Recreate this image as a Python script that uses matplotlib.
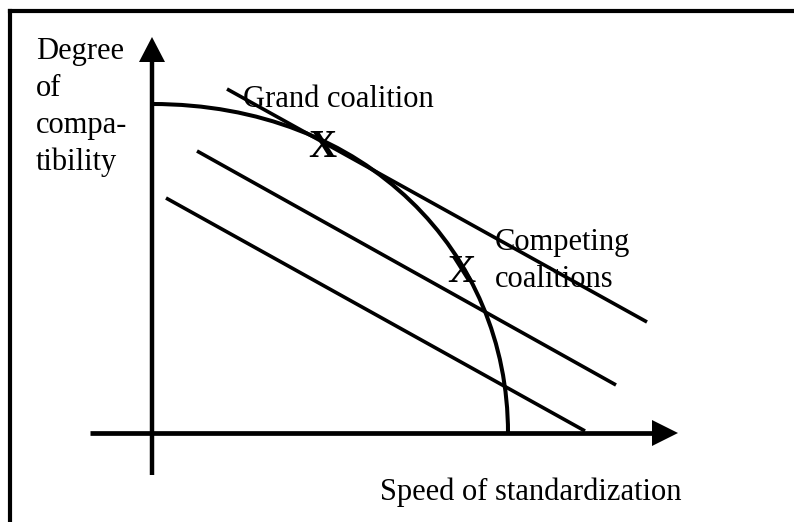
import matplotlib
matplotlib.use("Agg")
import matplotlib.pyplot as plt
from matplotlib.path import Path
from matplotlib.patches import PathPatch, Polygon
from matplotlib.lines import Line2D

# ---- data (diagram units, origin at axes intersection) ----
frontier_ctrl_x = [0, 215, 356, 356]      # Bezier control points of the frontier
frontier_ctrl_y = [329, 329, 180, 0]
line_x0 = [75, 45, 14]                    # iso-lines (start / end)
line_y0 = [344, 282, 235]
line_x1 = [495, 464, 433]
line_y1 = [111, 48, 2]
marker_x = [170.5, 309.5]                 # "X" points
marker_y = [276, 151]
y_label = "Degree\nof\ncompa-\ntibility"
x_label = "Speed of standardization"
grand_label = "Grand coalition"
compete_label = "Competing\ncoalitions"

plt.rcParams['font.family'] = ['Liberation Serif', 'DejaVu Serif']

fig = plt.figure(figsize=(7.94, 5.22), dpi=100)
ax = fig.add_axes([0, 0, 1, 1])
ax.set_xlim(-152, 642)
ax.set_ylim(-89, 433)
ax.axis('off')

# frame (top and left edges)
fig.add_artist(Line2D([10/794, 1.0], [1 - 11/522, 1 - 11/522], color='black', lw=3.0,
                      transform=fig.transFigure, solid_capstyle='projecting'))
fig.add_artist(Line2D([10/794, 10/794], [0, 1 - 11/522], color='black', lw=3.0,
                      transform=fig.transFigure, solid_capstyle='projecting'))

# axes with arrow heads
ax.plot([-62, 505], [0, 0], color='black', lw=3.4, solid_capstyle='butt')
ax.plot([0, 0], [-42, 375], color='black', lw=3.2, solid_capstyle='butt')
ax.add_patch(Polygon([[500, 13], [526, 0], [500, -13]], closed=True, color='black', lw=0))
ax.add_patch(Polygon([[-13, 371], [0, 396], [13, 371]], closed=True, color='black', lw=0))

# frontier curve
verts = list(zip(frontier_ctrl_x, frontier_ctrl_y))
path = Path(verts, [Path.MOVETO, Path.CURVE4, Path.CURVE4, Path.CURVE4])
ax.add_patch(PathPatch(path, facecolor='none', edgecolor='black', lw=2.9))

# iso lines
for x0, y0, x1, y1 in zip(line_x0, line_y0, line_x1, line_y1):
    ax.plot([x0, x1], [y0, y1], color='black', lw=2.6, solid_capstyle='butt')

# X markers
for mx, my in zip(marker_x, marker_y):
    ax.text(mx, my, "X", ha='center', va='baseline', fontsize=28,
            fontweight='bold', color='black')

# labels
ax.text(-116, 396, y_label, ha='left', va='top', fontsize=22, linespacing=1.36)
ax.text(91, 326, grand_label, ha='left', va='baseline', fontsize=22)
ax.text(343, 146, compete_label, ha='left', va='baseline', fontsize=22, linespacing=1.36)
ax.text(529, -67, x_label, ha='right', va='baseline', fontsize=22)

fig.savefig("out.png", dpi=100)
